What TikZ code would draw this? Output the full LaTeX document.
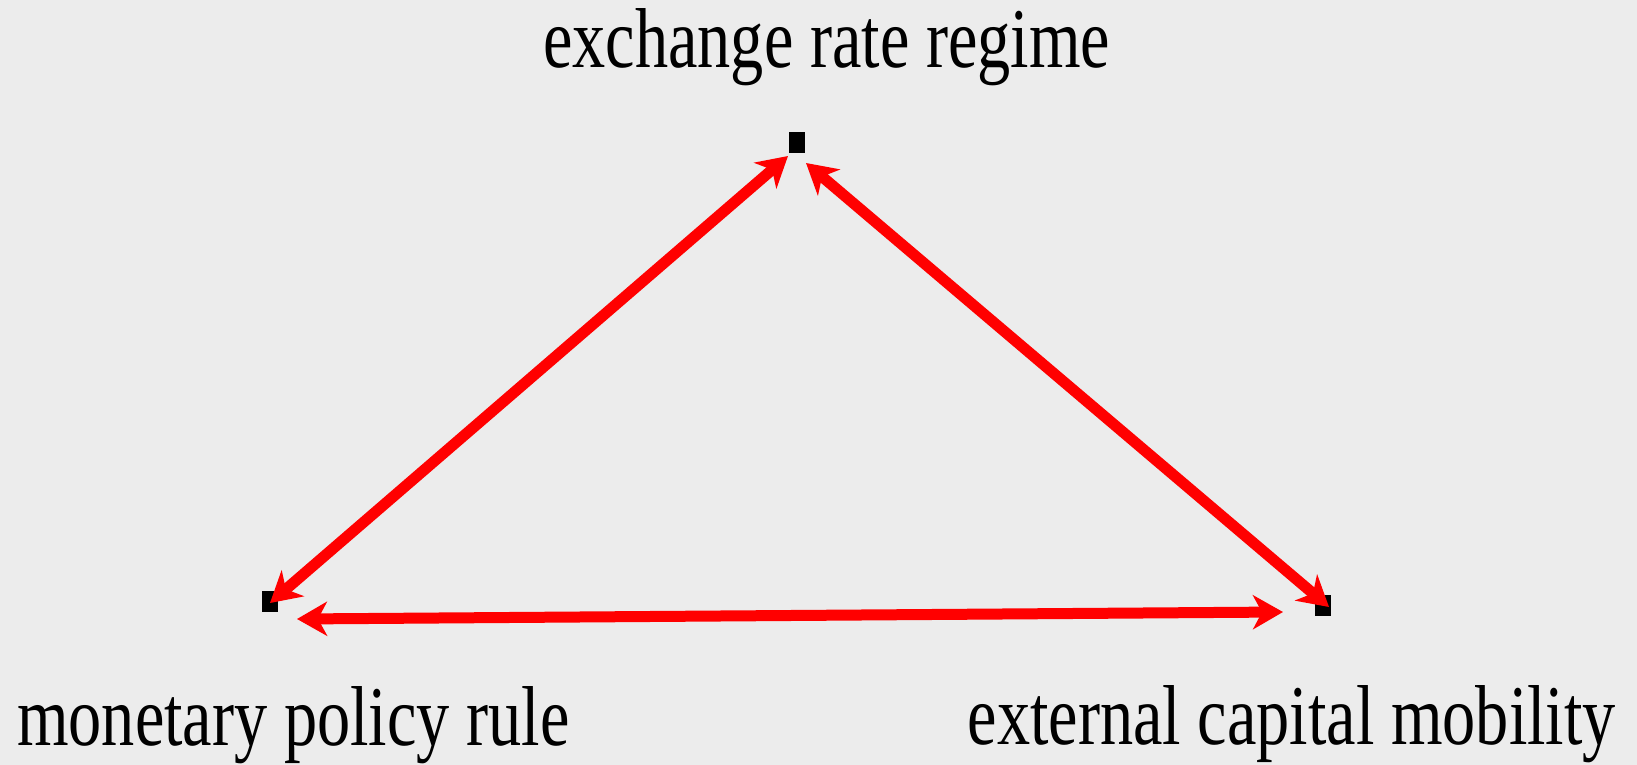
\documentclass[tikz,border=0pt]{standalone}
\usepackage{xcolor}
\usepackage{fontspec}
\usepackage{tikz}
\usetikzlibrary{arrows.meta, positioning, calc}

\newfontfamily\condserif[FakeStretch=0.78]{Liberation Serif}
\definecolor{paper_gray}{RGB}{236,236,236}

\begin{document}
\begin{tikzpicture}[
        x=1pt, y=-1pt,
        corner_box/.style={rectangle, fill=black, inner sep=0pt, minimum width=16pt, minimum height=21pt},
        link_arrow/.style={{Stealth[length=30pt, width=34pt, inset=9pt]}-{Stealth[length=30pt, width=34pt, inset=9pt]},
                           line width=11pt, red},
        label_text/.style={inner sep=0pt, font=\condserif\fontsize{85}{85}\selectfont, text=black}
    ]

    % background
    \fill[paper_gray] (0,0) rectangle (1637,765);
    \useasboundingbox (0,0) rectangle (1637,765);

    \node[corner_box] (regime_pt)   at (797,142) {};
    \node[corner_box] (policy_pt)   at (270,601) {};
    \node[corner_box] (mobility_pt) at (1323,605) {};

    \node[label_text, anchor=base west] (regime)   at (543,68)  {exchange rate regime};
    \node[label_text, anchor=base west] (policy)   at (17,745)  {monetary policy rule};
    \node[label_text, anchor=base east] (mobility) at (1616,744) {external capital mobility};

    \coordinate (left_lo)   at (270,603);
    \coordinate (left_hi)   at (788,156);
    \coordinate (right_hi)  at (806,163);
    \coordinate (right_lo)  at (1329,607);
    \coordinate (bottom_l)  at (297,619);
    \coordinate (bottom_r)  at (1283,612);

    \draw[link_arrow] (left_lo) -- (left_hi);
    \draw[link_arrow] (right_hi) -- (right_lo);
    \draw[link_arrow] (bottom_l) -- (bottom_r);
\end{tikzpicture}
\end{document}
